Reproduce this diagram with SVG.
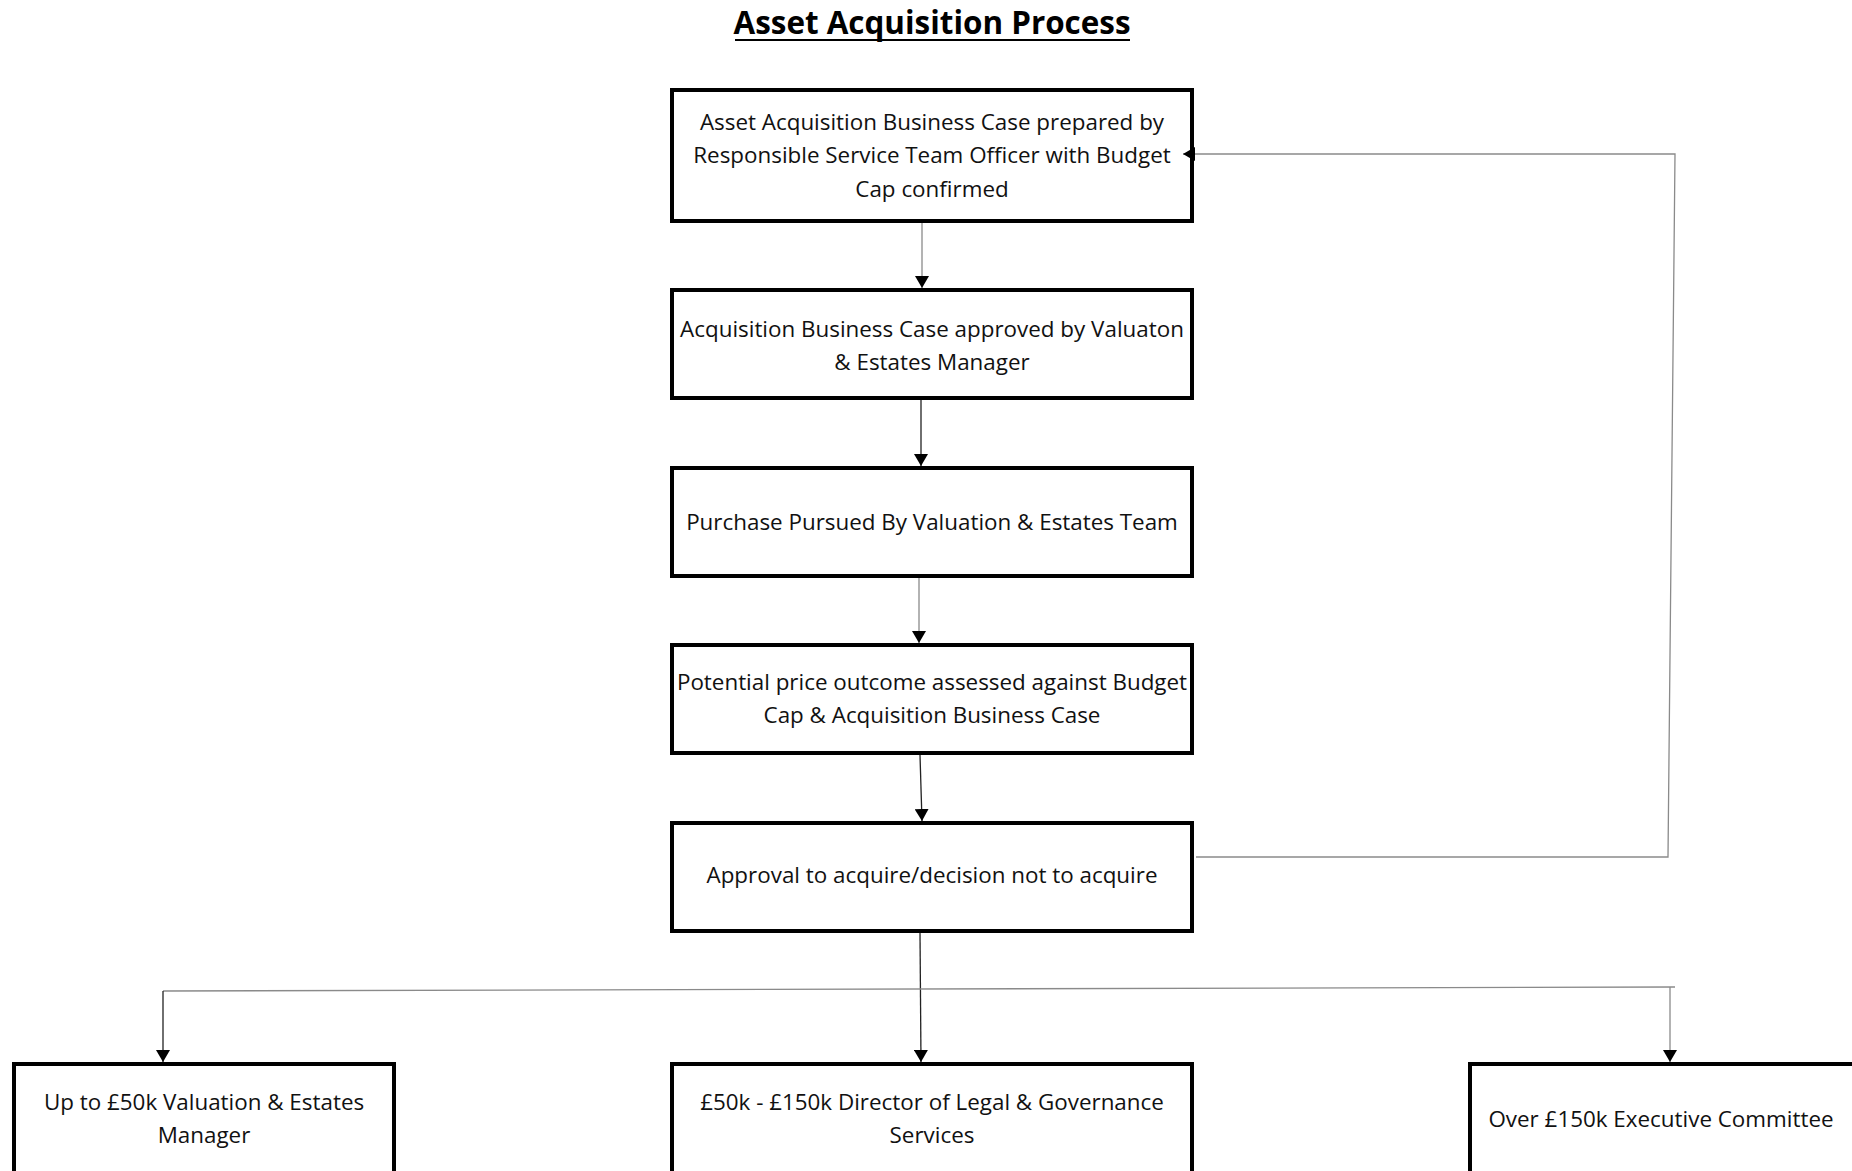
<svg xmlns="http://www.w3.org/2000/svg" width="1852" height="1171" viewBox="0 0 1852 1171">
<style>
  .box { fill: #ffffff; stroke: #000000; stroke-width: 4; }
  .t { font-family: "Open Sans", "Liberation Sans", sans-serif; font-size: 22.4px; fill: #111111; text-anchor: middle; }
  .title { font-family: "Open Sans", "Liberation Sans", sans-serif; font-size: 31.4px; font-weight: bold; fill: #000000; text-anchor: middle; }
  .ln { fill: none; stroke-width: 1.3; }
  .gray { stroke: #8a8a8a; }
  .dark { stroke: #222222; }
</style>
<defs>
  <marker id="arr" viewBox="0 0 12 14" refX="12" refY="7" markerWidth="12" markerHeight="14" markerUnits="userSpaceOnUse" orient="auto">
    <path d="M0,0 L12,7 L0,14 Z" fill="#000000"/>
  </marker>
</defs>
<rect width="1852" height="1171" fill="#ffffff"/>

<g id="title">
  <text class="title" x="932" y="34">Asset Acquisition Process</text>
  <line x1="735" y1="40" x2="1130" y2="40" stroke="#000000" stroke-width="2"/>
</g>

<g id="n1">
  <rect class="box" x="672" y="90" width="520" height="131"/>
  <text class="t" x="932" y="130">Asset Acquisition Business Case prepared by</text>
  <text class="t" x="932" y="163">Responsible Service Team Officer with Budget</text>
  <text class="t" x="932" y="197">Cap confirmed</text>
</g>
<g id="n2">
  <rect class="box" x="672" y="290" width="520" height="108"/>
  <text class="t" x="932" y="337">Acquisition Business Case approved by Valuaton</text>
  <text class="t" x="932" y="370">&amp; Estates Manager</text>
</g>
<g id="n3">
  <rect class="box" x="672" y="468" width="520" height="108"/>
  <text class="t" x="932" y="530">Purchase Pursued By Valuation &amp; Estates Team</text>
</g>
<g id="n4">
  <rect class="box" x="672" y="645" width="520" height="108"/>
  <text class="t" x="932" y="690">Potential price outcome assessed against Budget</text>
  <text class="t" x="932" y="723">Cap &amp; Acquisition Business Case</text>
</g>
<g id="n5">
  <rect class="box" x="672" y="823" width="520" height="108"/>
  <text class="t" x="932" y="883">Approval to acquire/decision not to acquire</text>
</g>
<g id="n6">
  <rect class="box" x="14" y="1064" width="380" height="200"/>
  <text class="t" x="204" y="1110">Up to £50k Valuation &amp; Estates</text>
  <text class="t" x="204" y="1143">Manager</text>
</g>
<g id="n7">
  <rect class="box" x="672" y="1064" width="520" height="200"/>
  <text class="t" x="932" y="1110">£50k - £150k Director of Legal &amp; Governance</text>
  <text class="t" x="932" y="1143">Services</text>
</g>
<g id="n8">
  <rect class="box" x="1470" y="1064" width="420" height="200"/>
  <text class="t" x="1661" y="1127">Over £150k Executive Committee</text>
</g>

<g id="connectors">
  <line class="ln gray" x1="922" y1="223" x2="922" y2="288" marker-end="url(#arr)"/>
  <line class="ln dark" x1="921" y1="400" x2="921" y2="466" marker-end="url(#arr)"/>
  <line class="ln gray" x1="919" y1="578" x2="919" y2="643" marker-end="url(#arr)"/>
  <line class="ln dark" x1="920" y1="755" x2="922" y2="821" marker-end="url(#arr)"/>
  <polyline class="ln gray" points="1196,857 1668,857 1675,154 1183,154" marker-end="url(#arr)"/>
  <line class="ln dark" x1="920" y1="933" x2="921" y2="1062" marker-end="url(#arr)"/>
  <line class="ln gray" x1="163" y1="991" x2="1675" y2="987"/>
  <line class="ln dark" x1="163" y1="991" x2="163" y2="1062" marker-end="url(#arr)"/>
  <line class="ln gray" x1="1670" y1="987" x2="1670" y2="1062" marker-end="url(#arr)"/>
</g>
</svg>
